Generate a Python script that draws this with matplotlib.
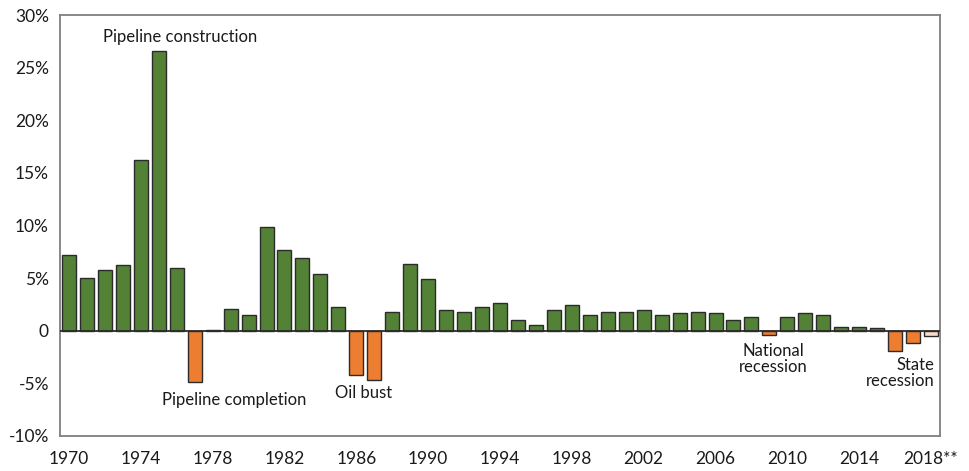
import matplotlib.pyplot as plt
from matplotlib.ticker import FuncFormatter

plt.rcParams['font.family'] = ['Lato', 'DejaVu Sans']

# annual change, percent
years = list(range(1970, 2019))
change = [7.2, 5.0, 5.8, 6.2, 16.2, 26.6, 6.0, -4.9, 0.1, 2.1,
          1.5, 9.9, 7.7, 6.9, 5.4, 2.25, -4.25, -4.7, 1.8, 6.3,
          4.9, 2.0, 1.8, 2.25, 2.6, 1.0, 0.55, 2.0, 2.4, 1.5,
          1.8, 1.8, 2.0, 1.5, 1.65, 1.8, 1.65, 1.0, 1.3, -0.4,
          1.3, 1.65, 1.5, 0.4, 0.4, 0.25, -1.95, -1.2, -0.5]
tick_years = list(range(1970, 2019, 4))
tick_labels = [str(y) for y in tick_years[:-1]] + ['2018**']

notes = ['Pipeline construction', 'Pipeline completion', 'Oil bust',
         'National\nrecession', 'State\nrecession']
note_x = [1976.2, 1979.2, 1986.4, 2009.2, 2018.2]
note_y = [27.9, -6.55, -5.9, -2.7, -4.0]
note_ha = ['center', 'center', 'center', 'center', 'right']

green = '#538135'
orange = '#ED7D31'
light = '#F8DCC8'
colors = []
for y, v in zip(years, change):
    if y == 2018:
        colors.append(light)
    elif v < 0:
        colors.append(orange)
    else:
        colors.append(green)

fig = plt.figure(figsize=(9.69, 4.71), dpi=100)
ax = fig.add_axes([60 / 969, 35 / 471, 880 / 969, 421 / 471])

ax.bar(years, change, width=0.78, color=colors, edgecolor='#2b2b2b', linewidth=1.0, zorder=2)
ax.axhline(0, color='#2b2b2b', linewidth=1.3, zorder=3)

ax.set_xlim(1969.5, 2018.5)
ax.set_ylim(-10, 30)
ax.set_yticks(range(-10, 31, 5))
ax.yaxis.set_major_formatter(FuncFormatter(lambda v, p: '0' if v == 0 else f'{v:.0f}%'))
ax.set_xticks(tick_years)
ax.set_xticklabels(tick_labels)
ax.tick_params(length=0, labelsize=12.5, colors='#1a1a1a')
ax.tick_params(axis='x', pad=11)
ax.tick_params(axis='y', pad=8)

for s in ax.spines.values():
    s.set_color('#7f7f7f')
    s.set_linewidth(1.3)

for t, x, y, ha in zip(notes, note_x, note_y, note_ha):
    ax.text(x, y, t, ha=ha, va='center', fontsize=12, color='#1a1a1a', linespacing=1.0)

fig.savefig('out.png', dpi=100)
